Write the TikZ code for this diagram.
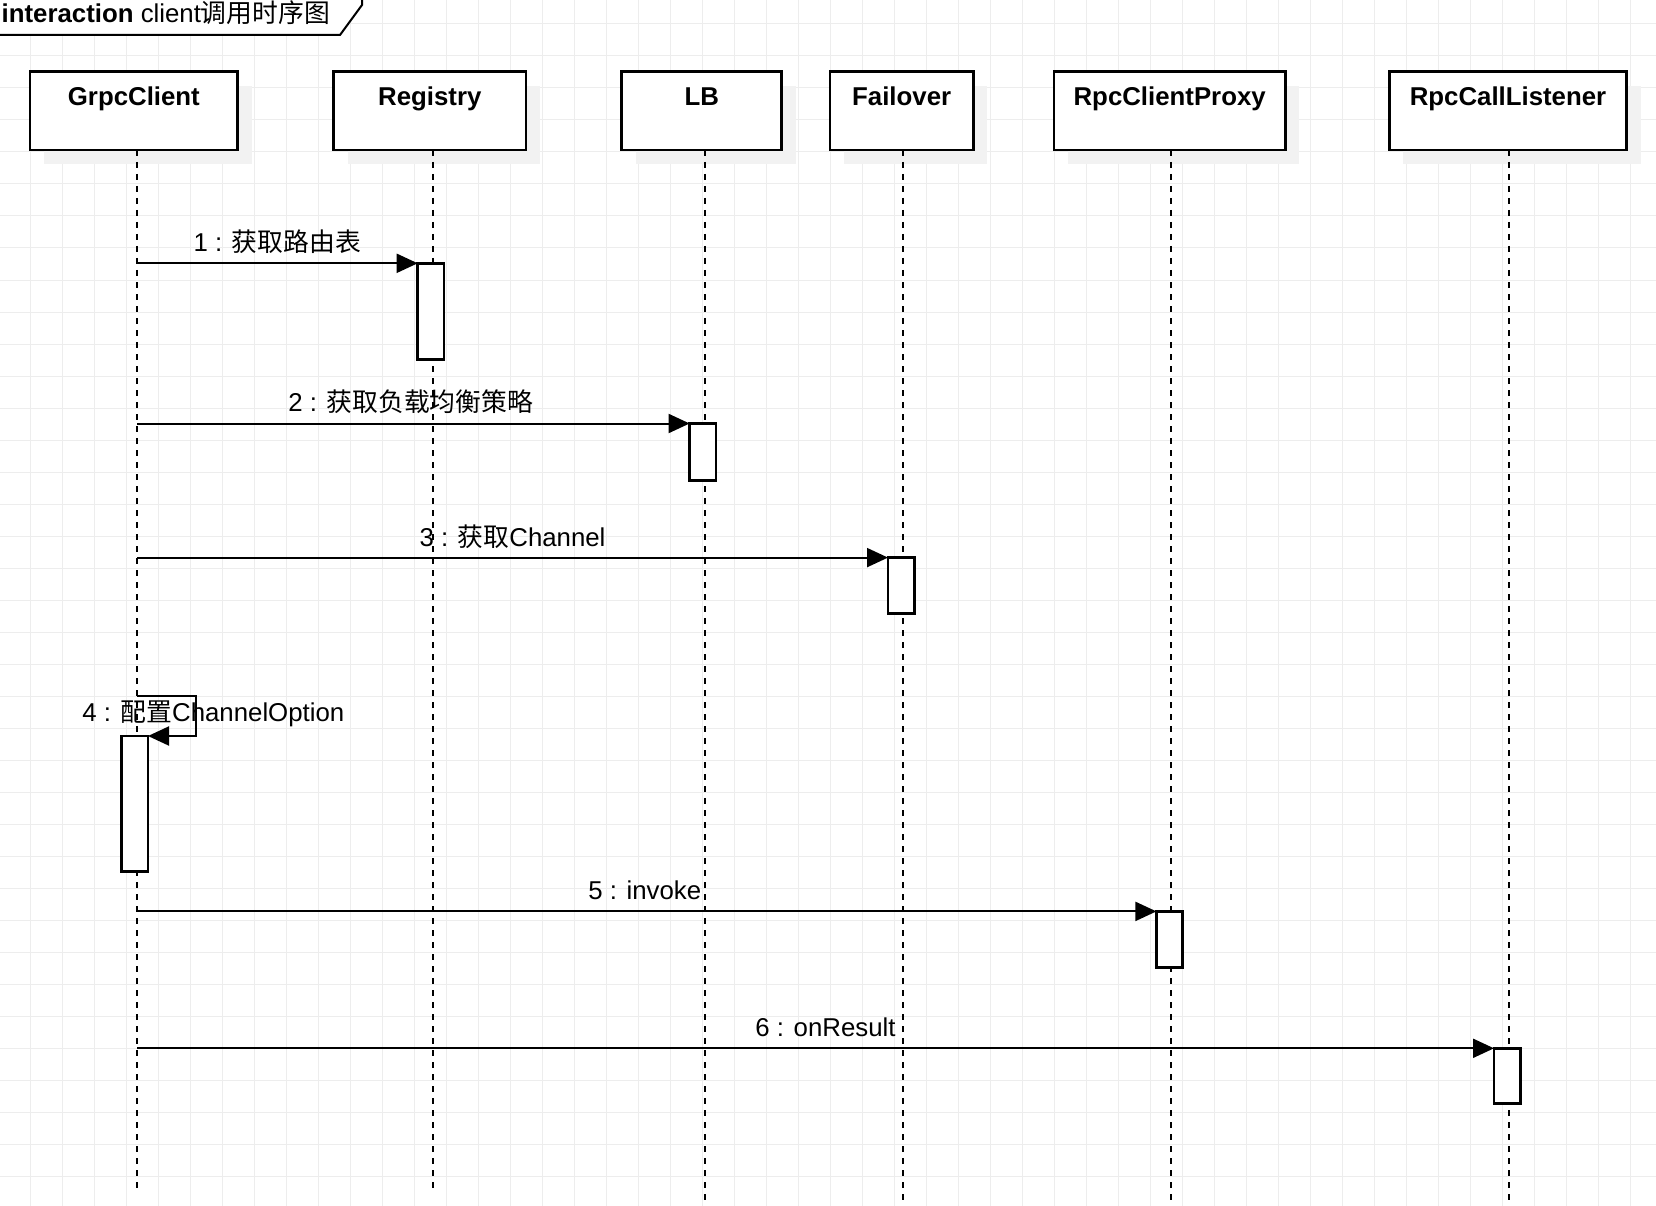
\documentclass[tikz,border=0pt]{standalone}
\usepackage{fontspec}
\setmainfont{Liberation Sans}
\newfontfamily\cjkfont{Noto Sans CJK SC}
\newcommand{\zh}[1]{{\cjkfont #1}}
\usetikzlibrary{arrows.meta,shadows}
\definecolor{gridgray}{RGB}{237,237,237}
\definecolor{shadowgray}{RGB}{242,242,242}

\begin{document}
\begin{tikzpicture}[x=1pt,y=-1pt,
  gridline/.style={draw=gridgray, line width=1pt},
  head/.style={draw, line width=2.5pt, fill=white, inner sep=0pt, outer sep=0pt,
    anchor=north west, font=\fontsize{25.8}{30}\selectfont\bfseries,
    text height=34pt, text depth=44.3pt,
    drop shadow={shadow xshift=14pt, shadow yshift=-14pt, fill=shadowgray, opacity=1}},
  act/.style={draw, line width=2.5pt, fill=white, inner sep=0pt, outer sep=0pt,
    anchor=north west, minimum width=26.3pt},
  lifeline/.style={line width=2pt, dash pattern=on 6pt off 6pt},
  msg/.style={line width=2pt, -{Triangle[length=21pt, width=19pt]}},
  labeltext/.style={font=\fontsize{25.8}{30}\selectfont, anchor=base, inner sep=0pt},
  msglabel/.style={labeltext, yshift=11.6pt},
]
\useasboundingbox (0,0) rectangle (1656,1206);
\clip (0,0) rectangle (1656,1206);

% background grid
\foreach \x in {30,62,...,1656} \draw[gridline] (\x,0) -- (\x,1206);
\foreach \y in {24,56,...,1206} \draw[gridline] (0,\y) -- (1656,\y);

% frame label
\draw[line width=2pt, fill=white] (-5,-5) -- (362,-5) -- (362,5) -- (340,35) -- (-5,35) -- cycle;
\node[anchor=base west, inner sep=0pt, font=\fontsize{25.8}{30}\selectfont] (title) at (1.5,22.7)
  {\textbf{interaction} client\zh{调用时序图}};

% participants
\node[head, minimum width=207.7pt] (gc)  at (30,71.7)     {GrpcClient};
\node[head, minimum width=192.2pt] (reg) at (333.7,71.7)  {Registry};
\node[head, minimum width=160pt]   (lb)  at (621.7,71.7)  {LB};
\node[head, minimum width=143.3pt] (fo)  at (830,71.7)    {Failover};
\node[head, minimum width=231.3pt] (rcp) at (1054,71.7)   {RpcClientProxy};
\node[head, minimum width=237.4pt] (rcl) at (1389.3,71.7) {RpcCallListener};

% lifeline ends
\coordinate (gcE)  at (137,1190);
\coordinate (regE) at (433,1190);
\coordinate (lbE)  at (705,1210);
\coordinate (foE)  at (902.7,1210);
\coordinate (rcpE) at (1171,1210);
\coordinate (rclE) at (1509,1210);

\draw[lifeline] (gc.south -| gcE)   -- (gcE);
\draw[lifeline] (reg.south -| regE) -- (regE);
\draw[lifeline] (lb.south -| lbE)   -- (lbE);
\draw[lifeline] (fo.south -| foE)   -- (foE);
\draw[lifeline] (rcp.south -| rcpE) -- (rcpE);
\draw[lifeline] (rcl.south -| rclE) -- (rclE);

% activations
\node[act, minimum height=96pt]    (a1) at (417.7,263.3)  {};
\node[act, minimum height=57pt]    (a2) at (689.6,423.5)  {};
\node[act, minimum height=56pt]    (a3) at (888,557.6)    {};
\node[act, minimum height=135.7pt] (a4) at (121.7,736)    {};
\node[act, minimum height=56pt]    (a5) at (1156.4,911.4) {};
\node[act, minimum height=55pt]    (a6) at (1494,1048.3)  {};

% messages
\draw[msg] (a1.north west -| gcE) -- (a1.north west)
  node[msglabel, midway] {1 : \zh{获取路由表}};
\draw[msg] (a2.north west -| gcE) -- (a2.north west)
  node[msglabel, midway, xshift=-2.5pt] {2 : \zh{获取负载均衡策略}};
\draw[msg] (a3.north west -| gcE) -- (a3.north west)
  node[msglabel, midway] {3 : \zh{获取}Channel};

\coordinate (s4) at (137.3,695.7);
\coordinate (c4) at (196,695.7);
\draw[msg] (s4) -- (c4) |- (a4.north east);
\node[labeltext] (l4) at (213.3,721.7) {4 : \zh{配置}ChannelOption};

\draw[msg] (a5.north west -| gcE) -- (a5.north west)
  node[msglabel, midway, xshift=-2pt] {5 : invoke};
\draw[msg] (a6.north west -| gcE) -- (a6.north west)
  node[msglabel, midway, xshift=10pt] {6 : onResult};
\end{tikzpicture}
\end{document}
